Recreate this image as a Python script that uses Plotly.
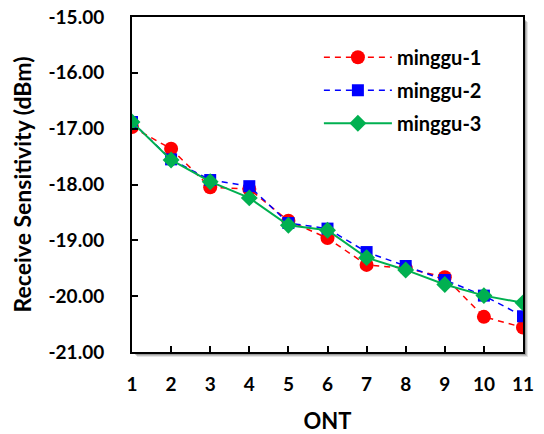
import plotly.graph_objects as go

ont = [1, 2, 3, 4, 5, 6, 7, 8, 9, 10, 11]
minggu_1 = [-16.97, -17.36, -18.05, -18.08, -18.65, -18.96, -19.44, -19.50, -19.66, -20.37, -20.56]
minggu_2 = [-16.88, -17.55, -17.92, -18.03, -18.69, -18.79, -19.21, -19.46, -19.71, -19.99, -20.36]
minggu_3 = [-16.88, -17.56, -17.95, -18.24, -18.73, -18.82, -19.31, -19.53, -19.79, -19.99, -20.12]
y_ticks = [-21, -20, -19, -18, -17, -16, -15]
y_tick_text = ["-21.00", "-20.00", "-19.00", "-18.00", "-17.00", "-16.00", "-15.00"]

FONT = "Lato"

fig = go.Figure()
fig.add_trace(go.Scatter(
    x=ont, y=minggu_1, name="minggu-1", mode="lines+markers", legendgroup="a",
    line=dict(color="#FF0000", width=1.5, dash="6px,5px"),
    marker=dict(symbol="circle", size=14, color="#FF0000")))
fig.add_trace(go.Scatter(
    x=ont, y=minggu_2, name="minggu-2", mode="lines+markers", legendgroup="b",
    line=dict(color="#0000FF", width=1.5, dash="6px,5px"),
    marker=dict(symbol="square", size=12, color="#0000FF")))
fig.add_trace(go.Scatter(
    x=ont, y=minggu_3, name="minggu-3", mode="lines+markers", legendgroup="c",
    line=dict(color="#00B050", width=2),
    marker=dict(symbol="diamond", size=13, color="#00B050")))

# drop shadow of the plot frame
for off, op in [(5, 0.10), (4, 0.15), (3, 0.2), (2, 0.25)]:
    fig.add_shape(type="rect", xref="x domain", yref="y domain",
                  x0=0 + off / 391, x1=1 + off / 391, y0=0 - off / 335, y1=1 - off / 335,
                  line=dict(width=0), fillcolor=f"rgba(0,0,0,{op})", layer="below")
fig.add_shape(type="rect", xref="x domain", yref="y domain", x0=0, x1=1, y0=0, y1=1,
              line=dict(width=0), fillcolor="white", layer="below")

fig.update_layout(
    width=544, height=434,
    margin=dict(l=132, r=21, t=17, b=82, autoexpand=False),
    paper_bgcolor="white", plot_bgcolor="rgba(0,0,0,0)",
    font=dict(family=FONT, color="black", size=16),
    showlegend=True,
    legend=dict(x=0.478, y=0.938, xanchor="left", yanchor="top",
                bgcolor="rgba(0,0,0,0)", font=dict(family=FONT, size=20, weight="bold"),
                itemwidth=68, tracegroupgap=4),
)
fig.update_xaxes(
    range=[1, 11], tickvals=ont, ticks="inside", ticklen=6, tickwidth=1.5, tickcolor="black",
    showline=True, linecolor="black", linewidth=2, mirror=True, showgrid=False, zeroline=False,
    automargin=False,
    tickfont=dict(family=FONT, size=19, weight="bold"), ticklabelstandoff=14,
    title=dict(text="ONT", font=dict(family=FONT, size=22, weight="bold"), standoff=24))
fig.update_yaxes(
    range=[-21, -15], tickvals=y_ticks, ticktext=y_tick_text, ticks="inside", ticklen=6,
    tickwidth=1.5, tickcolor="black", showline=True, linecolor="black", linewidth=2, mirror=True,
    showgrid=False, zeroline=False, automargin=False,
    tickfont=dict(family=FONT, size=19, weight="bold"), ticklabelstandoff=22,
    title=dict(text="Receive Sensitivity (dBm)", font=dict(family=FONT, size=23, weight="bold"),
               standoff=10))

fig.write_html("out.html", config={"displayModeBar": False},
               post_script="document.body.style.margin='0px';document.body.style.overflow='hidden';")
